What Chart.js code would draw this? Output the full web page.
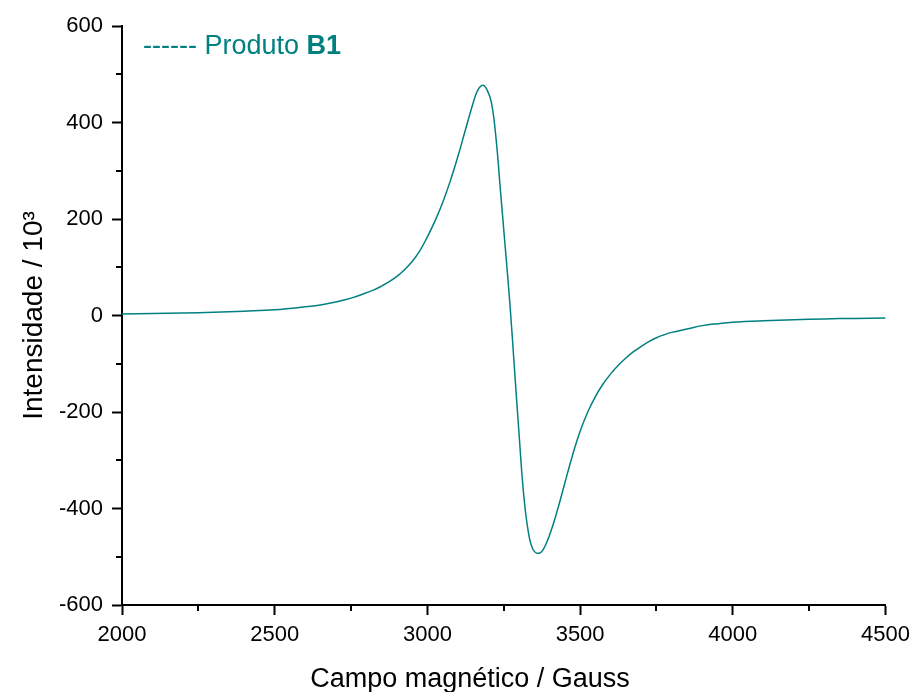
<!DOCTYPE html>
<html>
<head>
<meta charset="utf-8">
<script src="https://cdn.jsdelivr.net/npm/chart.js@4.4.1/dist/chart.umd.min.js"></script>
<style>
  html, body { margin: 0; padding: 0; background: #ffffff; }
  #wrap { width: 917px; height: 692px; position: relative; }
</style>
</head>
<body>
<div id="wrap"><canvas id="epr" width="917" height="692"></canvas></div>
<script>
// EPR first-derivative spectrum of product B1
const fieldGauss = [
  2000, 2100, 2200, 2300, 2400, 2500, 2600, 2650, 2700, 2750,
  2800, 2825, 2850, 2875, 2900, 2925, 2950, 2975, 3000, 3025,
  3050, 3075, 3100, 3125, 3150, 3165, 3181, 3195, 3210, 3225,
  3240, 3255, 3270, 3285, 3300, 3315, 3330, 3345, 3363, 3380,
  3400, 3425, 3450, 3475, 3500, 3525, 3550, 3575, 3600, 3625,
  3650, 3675, 3700, 3725, 3750, 3775, 3800, 3850, 3900, 3950,
  4000, 4100, 4200, 4300, 4400, 4500
];
const intensity = [
  3, 4, 5, 6.5, 9, 12, 18, 22, 28, 36,
  47, 53, 61, 70, 81, 95, 112, 134, 163, 196,
  234, 279, 330, 386, 441, 467, 477, 468, 440, 365,
  252, 140, 25, -110, -245, -370, -447, -484, -493, -484,
  -455, -405, -347, -290, -240, -200, -168, -142, -121, -103,
  -88, -75, -64, -54, -46, -40, -35, -28, -21, -17,
  -14, -11, -9, -7, -6, -5
];

const xMajorTicks = [2000, 2500, 3000, 3500, 4000, 4500];
const xMinorTicks = [2250, 2750, 3250, 3750, 4250];
const yMajorTicks = [-600, -400, -200, 0, 200, 400, 600];
const yMinorTicks = [-500, -300, -100, 100, 300, 500];

const seriesName = 'Produto ';
const seriesTag = 'B1';
const xTitle = 'Campo magnético / Gauss';
const yTitle = 'Intensidade / 10³';

const TEAL = '#008080';
const FONT = '"Liberation Sans", Arial, Helvetica, sans-serif';

const points = fieldGauss.map((g, i) => ({ x: g, y: intensity[i] }));

// minor ticks, x-axis title and the in-plot legend
const decorations = {
  id: 'decorations',
  afterDraw(chart) {
    const { ctx, scales: { x, y } } = chart;
    ctx.save();
    ctx.strokeStyle = '#000';
    ctx.lineWidth = 2;
    ctx.beginPath();
    xMinorTicks.forEach(v => {
      const px = Math.round(x.getPixelForValue(v));
      ctx.moveTo(px, y.bottom);
      ctx.lineTo(px, y.bottom + 6);
    });
    yMinorTicks.forEach(v => {
      const py = Math.round(y.getPixelForValue(v));
      ctx.moveTo(x.left, py);
      ctx.lineTo(x.left - 6, py);
    });
    ctx.stroke();

    // x-axis title
    ctx.fillStyle = '#000';
    ctx.font = '27px ' + FONT;
    ctx.textAlign = 'center';
    ctx.textBaseline = 'alphabetic';
    ctx.fillText(xTitle, 470, 687);

    // legend
    ctx.fillStyle = TEAL;
    ctx.textAlign = 'left';
    ctx.font = '27px ' + FONT;
    const lead = '------ ' + seriesName;
    ctx.fillText(lead, 143, 54);
    const w = ctx.measureText(lead).width;
    ctx.font = 'bold 27px ' + FONT;
    ctx.fillText(seriesTag, 143 + w, 54);
    ctx.restore();
  }
};

new Chart(document.getElementById('epr'), {
  type: 'line',
  data: {
    datasets: [{
      label: seriesName + seriesTag,
      data: points,
      borderColor: TEAL,
      borderWidth: 1.5,
      pointRadius: 0,
      fill: false,
      tension: 0.4
    }]
  },
  options: {
    responsive: false,
    animation: false,
    events: [],
    layout: { padding: { top: 26, right: 29, left: 0, bottom: 0 } },
    plugins: { legend: { display: false }, tooltip: { enabled: false } },
    scales: {
      x: {
        type: 'linear',
        position: 'bottom',
        min: 2000,
        max: 4500,
        afterBuildTicks: s => { s.ticks = xMajorTicks.map(v => ({ value: v })); },
        afterFit: s => { s.height = 87; },
        ticks: {
          color: '#000',
          font: { family: FONT, size: 22 },
          padding: 7,
          maxRotation: 0,
          callback: v => String(v)
        },
        grid: {
          drawOnChartArea: false,
          drawTicks: true,
          tickLength: 10,
          tickWidth: 2,
          tickColor: '#000'
        },
        border: { display: true, color: '#000', width: 2 }
      },
      y: {
        type: 'linear',
        position: 'left',
        min: -600,
        max: 600,
        afterBuildTicks: s => { s.ticks = yMajorTicks.map(v => ({ value: v })); },
        afterFit: s => { s.width = 122; },
        ticks: {
          color: '#000',
          font: { family: FONT, size: 22 },
          padding: 9,
          callback: v => String(v)
        },
        grid: {
          drawOnChartArea: false,
          drawTicks: true,
          tickLength: 10,
          tickWidth: 2,
          tickColor: '#000'
        },
        border: { display: true, color: '#000', width: 2 },
        title: {
          display: true,
          text: yTitle,
          color: '#000',
          font: { family: FONT, size: 28 },
          padding: { top: 17, bottom: 0 }
        }
      }
    }
  },
  plugins: [decorations]
});
</script>
</body>
</html>
